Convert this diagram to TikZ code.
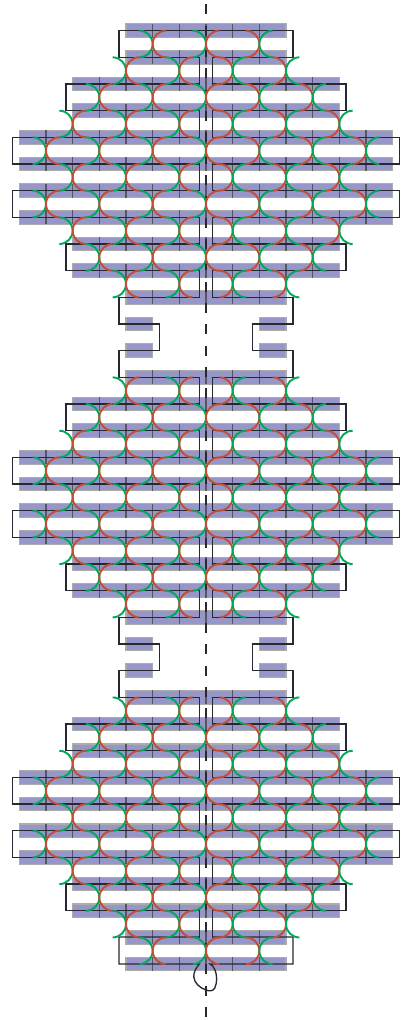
\documentclass[tikz,border=0pt]{standalone}
\definecolor{barfill}{RGB}{150,150,200}
\definecolor{baredge}{RGB}{172,172,172}
\definecolor{tickc}{RGB}{85,85,100}
\definecolor{coilc}{RGB}{40,40,50}
\definecolor{redarc}{RGB}{196,78,48}
\definecolor{greenarc}{RGB}{0,168,90}
\tikzset{
  barstyle/.style={fill=barfill,draw=baredge,line width=0.8pt},
  tickstyle/.style={draw=tickc,line width=0.8pt},
  coilstyle/.style={draw=coilc,line width=1pt,line cap=rect,line join=miter},
  axisstyle/.style={draw=coilc,line width=0.95pt,dash pattern=on 7.5pt off 8.5pt},
  arcstyle/.style={line width=1.45pt}
}
% half-arcs leaving a cusp at (#1,#2) on side #3 (-1 left, +1 right)
\newcommand{\cuspside}[4]{%
  \draw[arcstyle,draw=#4] (#1+#3*13.33,#2-13.33) .. controls (#1+#3*5.97,#2-13.33) and (#1,#2-7.36) .. (#1,#2)
     .. controls (#1,#2+7.36) and (#1+#3*5.97,#2+13.33) .. (#1+#3*13.33,#2+13.33);}
\begin{document}
\begin{tikzpicture}[x=0.75pt,y=-0.75pt]
\useasboundingbox (0,0) rectangle (410,1020);
% bars and their ticks: row / half-width in columns
\foreach \k/\n in {0/3,1/3,2/5,3/5,4/7,5/7,6/7,7/7,8/5,9/5,10/3,
                   13/3,14/5,15/5,16/7,17/7,18/7,19/7,20/5,21/5,22/3,
                   25/3,26/5,27/5,28/7,29/7,30/7,31/7,32/5,33/5,34/3,35/3}{
  \pgfmathsetmacro{\yy}{30.67+26.67*\k}
  \pgfmathsetmacro{\hw}{26.67*\n}
  \path[barstyle] (206-\hw,\yy-6.8) rectangle (206+\hw,\yy+6.8);
  \pgfmathtruncatemacro{\last}{\n-1}
  \foreach \c in {-\last,...,\last}{
    \draw[tickstyle] (206+26.67*\c,\yy-7) -- (206+26.67*\c,\yy+7);
  }
}
% small separate bars
\foreach \k in {11,12,23,24}{
  \pgfmathsetmacro{\yy}{30.67+26.67*\k}
  \path[barstyle] (126,\yy-6.8) rectangle (152.67,\yy+6.8);
  \path[barstyle] (259.33,\yy-6.8) rectangle (286,\yy+6.8);
}
% coil, mirrored: pair of rows / outer half-width / inner half-widths
\foreach \s in {-1,1}{
  \foreach \k/\o/\ia/\ib/\ic in {
      2/140/6.67/6.67/6.67,4/193.33/6.67/6.67/6.67,6/193.33/6.67/6.67/6.67,8/140/6.67/6.67/6.67,
      10/87/6.67/46.67/46.67,12/87/46.67/6.67/6.67,14/140/6.67/6.67/6.67,16/193.33/6.67/6.67/6.67,
      18/193.33/6.67/6.67/6.67,20/140/6.67/6.67/6.67,22/87/6.67/46.67/46.67,24/87/46.67/6.67/6.67,
      26/140/6.67/6.67/6.67,28/193.33/6.67/6.67/6.67,30/193.33/6.67/6.67/6.67,32/140/6.67/6.67/6.67}{
    \pgfmathsetmacro{\ya}{30.67+26.67*\k}
    \pgfmathsetmacro{\yb}{30.67+26.67*(\k+1)}
    \pgfmathsetmacro{\yc}{30.67+26.67*(\k+2)}
    \draw[coilstyle] (206+\s*\ia,\ya) -- (206+\s*\o,\ya) -- (206+\s*\o,\yb) -- (206+\s*\ib,\yb) -- (206+\s*\ic,\yc);
  }
  \pgfmathsetmacro{\ya}{30.67+26.67}
  \pgfmathsetmacro{\yb}{30.67+26.67*2}
  \draw[coilstyle] (206+\s*6.67,\ya) -- (206+\s*6.67,\yb);
}
% top turn
\draw[coilstyle] (199.33,57.34) -- (119,57.34) -- (119,30.67) -- (293,30.67) -- (293,57.34) -- (212.67,57.34);
% bottom turn with its closing loop
\draw[coilstyle] (199.33,937.0) -- (119,937.0) -- (119,964) -- (199.3,964)
   .. controls (196,968) and (193.5,972) .. (193.8,977)
   .. controls (194.2,983) and (200,988) .. (206,990)
   .. controls (209,991.2) and (213,991.5) .. (214.8,988)
   .. controls (217.5,982) and (217,975) .. (215,970)
   .. controls (214,967) and (212,965) .. (210,964) -- (212.67,964) -- (293,964) -- (293,937.0) -- (212.67,937.0);
% centre axis
\draw[axisstyle] (206,4.3) -- (206,1017);
% cusps: gap / half-extent in columns
\foreach \g/\m in {0/2,1/3,2/4,3/5,4/6,5/5,6/6,7/5,8/4,9/3,
                   13/3,14/4,15/5,16/6,17/5,18/6,19/5,20/4,21/3,
                   25/3,26/4,27/5,28/6,29/5,30/6,31/5,32/4,33/3,34/2}{
  \pgfmathsetmacro{\ym}{30.67+26.67*\g+13.33}
  \pgfmathtruncatemacro{\mm}{-\m}
  \pgfmathtruncatemacro{\mn}{-\m+2}
  \foreach \c in {\mm,\mn,...,\m}{
    \pgfmathsetmacro{\xc}{206+26.67*\c}
    \ifnum\c>0
      \cuspside{\xc}{\ym}{-1}{redarc}
      \cuspside{\xc}{\ym}{1}{greenarc}
    \else
      \cuspside{\xc}{\ym}{-1}{greenarc}
      \cuspside{\xc}{\ym}{1}{redarc}
    \fi
  }
}
\end{tikzpicture}
\end{document}
